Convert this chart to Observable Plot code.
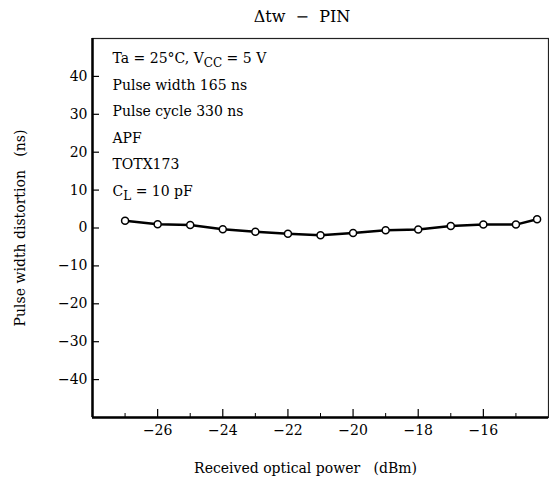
<!DOCTYPE html>
<html>
<head>
<meta charset="utf-8">
<script src="https://cdn.jsdelivr.net/npm/d3@7"></script>
<script src="https://cdn.jsdelivr.net/npm/@observablehq/plot@0.6"></script>
<style>
  html, body { margin: 0; padding: 0; background: white; }
  #title { width: 549px; height: 30px; line-height: 34px; box-sizing: border-box; padding-left: 55px;
           text-align: center; font-family: "DejaVu Serif", serif; font-size: 16px; white-space: pre; color: black; }
</style>
</head>
<body>
<div id="title"></div>
<div id="chart"></div>
<script>
const titleText = "Δtw  −  PIN";
const xLabel = "Received optical power   (dBm)";
const yLabel = "Pulse width distortion   (ns)";
const xDomain = [-28, -14];
const yDomain = [-50, 50];
const power = [-27, -26, -25, -24, -23, -22, -21, -20, -19, -18, -17, -16, -15, -14.35];
const distortion = [1.9, 1.0, 0.8, -0.3, -1.0, -1.5, -1.9, -1.3, -0.6, -0.4, 0.5, 0.9, 0.9, 2.3];
const xMajorTicks = [-26, -24, -22, -20, -18, -16];
const xMinorTicks = [-27, -25, -23, -21, -19, -17, -15];
const yTicks = [-40, -30, -20, -10, 0, 10, 20, 30, 40];
const conditions = ["Ta = 25°C, V_{CC} = 5 V", "Pulse width 165 ns", "Pulse cycle 330 ns", "APF", "TOTX173", "C_{L} = 10 pF"];

document.getElementById("title").textContent = titleText;

const data = power.map((p, i) => ({power: p, distortion: distortion[i]}));
const fmt = d => d < 0 ? "−" + Math.abs(d) : String(d);

const svg = Plot.plot({
  width: 549,
  height: 452,
  marginTop: 8,
  marginBottom: 65,
  marginLeft: 92,
  marginRight: 1,
  x: {domain: xDomain},
  y: {domain: yDomain},
  style: {fontFamily: "'DejaVu Serif', serif", fontSize: "14px", color: "black", background: "white", overflow: "visible"},
  marks: [
    Plot.frame({stroke: "#222", strokeWidth: 1.2}),
    Plot.ruleX([xDomain[0]], {stroke: "black", strokeWidth: 2.5}),
    Plot.ruleY([yDomain[0]], {stroke: "black", strokeWidth: 2.5}),
    Plot.axisY(yTicks, {anchor: "left", tickSize: 7, dx: 7, tickPadding: 5, tickFormat: fmt, label: null, strokeWidth: 1.2}),
    Plot.axisX(xMajorTicks, {anchor: "bottom", tickSize: 8, dy: -8, tickPadding: 8, tickFormat: fmt, label: null, strokeWidth: 1.2}),
    Plot.axisX(xMinorTicks, {anchor: "bottom", tickSize: 4, dy: -4, tickFormat: () => "", label: null, strokeWidth: 1}),
    Plot.text([xLabel], {text: d => d, frameAnchor: "bottom", textAnchor: "middle", dy: 51, dx: -15, lineAnchor: "middle"}),
    Plot.text([yLabel], {text: d => d, frameAnchor: "left", textAnchor: "middle", rotate: -90, dx: -72, lineAnchor: "middle"}),
    ...conditions.map((t, i) => Plot.text([t], {text: d => d, frameAnchor: "top-left", textAnchor: "start", lineAnchor: "bottom", dx: 20, dy: 24.5 + i * 26.6})),
    Plot.line(data, {x: "power", y: "distortion", stroke: "black", strokeWidth: 2.5}),
    Plot.dot(data, {x: "power", y: "distortion", r: 3.5, fill: "white", stroke: "black", strokeWidth: 1.5})
  ]
});

// render subscripts written as _{...}
d3.select(svg).selectAll("text").each(function() {
  const t = this.textContent;
  if (!t.includes("_{")) return;
  const parts = t.split(/(_\{[^}]*\})/).filter(p => p.length);
  this.textContent = "";
  let shifted = false;
  for (const p of parts) {
    const ts = d3.select(this).append("tspan");
    if (p.startsWith("_{")) {
      ts.text(p.slice(2, -1)).attr("dy", "4").attr("font-size", "12px");
      shifted = true;
    } else {
      ts.text(p);
      if (shifted) { ts.attr("dy", "-4"); shifted = false; }
    }
  }
});

document.getElementById("chart").appendChild(svg);
</script>
</body>
</html>
